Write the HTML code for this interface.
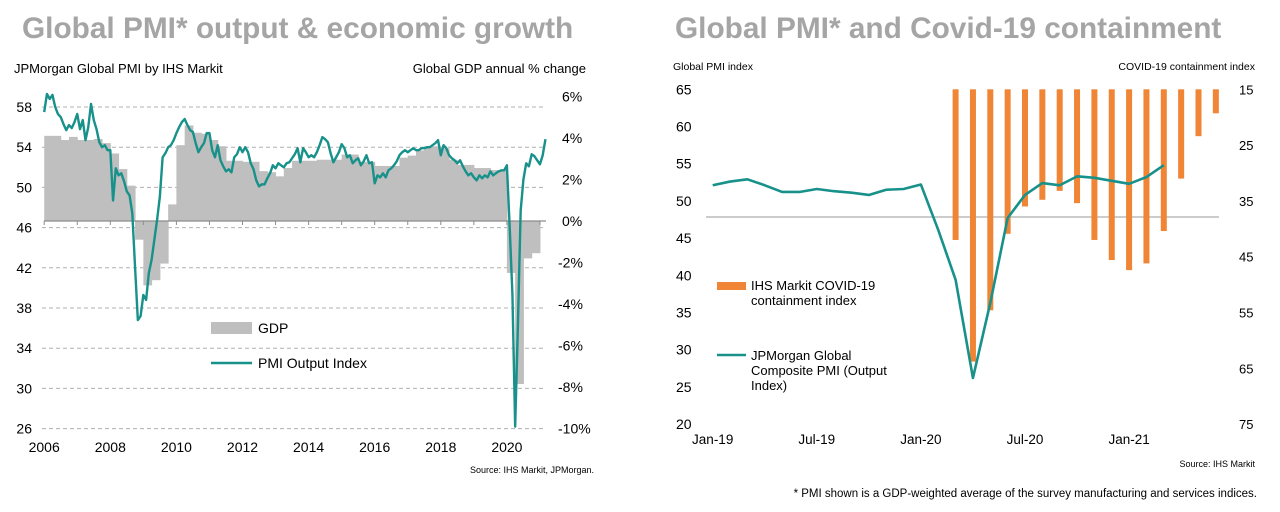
<!DOCTYPE html>
<html><head><meta charset="utf-8"><style>
html,body{margin:0;padding:0;background:#fff;}
svg{display:block;font-family:"Liberation Sans",Arial,sans-serif;}
</style></head><body>
<svg id="c" width="1280" height="512" viewBox="0 0 1280 512" xmlns="http://www.w3.org/2000/svg">
<text x="22" y="38" font-size="29.8" font-weight="bold" fill="#a5a5a5">Global PMI* output &amp; economic growth</text>
<text x="675" y="38" font-size="29.8" font-weight="bold" fill="#a5a5a5">Global PMI* and Covid-19 containment</text>
<text x="14" y="73" font-size="13" fill="#000">JPMorgan Global PMI by IHS Markit</text>
<text x="586" y="73" font-size="13" fill="#000" text-anchor="end">Global GDP annual % change</text>
<text x="673" y="70" font-size="10.5" fill="#000">Global PMI index</text>
<text x="1255" y="70" font-size="10.5" fill="#000" text-anchor="end">COVID-19 containment index</text>
<text x="594" y="473" font-size="9" fill="#000" text-anchor="end">Source: IHS Markit, JPMorgan.</text>
<text x="1255" y="467" font-size="9" fill="#000" text-anchor="end">Source: IHS Markit</text>
<text x="1257" y="497" font-size="11.5" fill="#000" text-anchor="end">* PMI shown is a GDP-weighted average of the survey manufacturing and services indices.</text>
<g id="left"></g><g id="right"></g>
</svg>
<script>
// ---- Left chart data ----
const gdpQuarterly = [4.1,4.1,3.9,4.05, 3.9,3.9,3.95,3.75, 3.25,2.5,1.7,-0.9, -3.1,-2.85,-2.05,0.8, 3.65,4.6,4.25,4.2, 3.9,3.6,2.9,2.9, 2.85,2.85,2.4,2.35, 2.15,2.55,2.9,2.9, 2.9,2.95,2.95,2.95, 3.2,3.2,2.85,2.85, 2.65,2.65,2.65,3.05, 3.15,3.4,3.6,3.6, 3.5,2.95,2.7,2.7, 2.55,2.55,2.45,2.45, -2.5,-7.85,-1.8,-1.55];
const pmiMonthly = [57.5,59.3,58.8,59.2,58.0,57.3,57.0,56.3,55.7,56.2,55.9,56.5,
57.3,55.8,56.7,54.7,56.0,58.3,56.7,55.8,54.5,54.0,54.2,53.7,
53.7,48.7,51.9,51.2,51.4,50.6,49.6,49.2,47.4,42.0,36.8,37.2,
39.3,38.8,41.5,42.8,44.8,46.8,49.1,53.0,53.4,54.0,54.2,54.7,
55.4,56.0,56.5,56.8,56.2,55.7,55.5,54.4,53.5,54.0,54.4,55.4,
55.4,53.7,53.0,54.2,52.7,52.1,51.6,51.8,51.5,53.0,53.3,54.0,
53.5,54.0,53.5,52.4,51.8,50.7,50.1,50.3,50.3,50.9,51.4,52.2,
51.9,52.4,52.2,52.0,52.4,52.5,52.9,53.3,53.9,52.5,53.9,53.5,
53.0,53.2,53.0,53.5,54.2,55.0,54.8,54.5,53.4,52.5,53.0,53.5,
54.3,53.9,53.0,53.2,52.4,52.7,52.9,52.2,52.6,53.2,52.4,52.5,
50.4,51.2,51.0,51.4,51.0,51.7,51.9,52.2,52.6,53.2,53.5,53.7,
53.5,53.7,53.9,53.7,53.7,53.9,53.9,54.0,54.0,54.2,54.4,54.7,
53.2,54.2,53.9,53.2,52.9,52.7,52.4,52.7,52.1,51.6,51.2,51.4,
51.0,50.7,51.2,50.9,51.2,51.0,51.6,51.2,51.4,51.6,51.7,51.7,
52.2,46.1,39.4,26.2,36.3,47.7,50.8,52.4,52.1,53.3,53.1,52.7,
52.3,53.2,54.8];
const leftTicks = [58,54,50,46,42,38,34,30,26];
const rightTicks = [6,4,2,0,-2,-4,-6,-8,-10];
const yearTicks = [2006,2008,2010,2012,2014,2016,2018,2020];

// ---- Right chart data ----
const monthLabels = ['Jan-19','Jul-19','Jan-20','Jul-20','Jan-21'];
const pmiRecent = [52.1,52.6,52.9,52.1,51.2,51.2,51.6,51.3,51.1,50.8,51.5,51.6,52.2,46.1,39.4,26.2,36.3,47.7,50.8,52.4,52.1,53.3,53.1,52.7,52.3,53.2,54.8];
const containment = [42.0,63.8,54.6,40.9,36.0,34.8,33.2,35.4,42.0,45.6,47.4,46.2,40.4,31.0,23.4,19.3]; // Mar-20 .. Jun-21
const containStartMonth = 14;
const pmiTicksR = [65,60,55,50,45,40,35,30,25,20];
const contTicks = [15,25,35,45,55,65,75];

const NS='http://www.w3.org/2000/svg';
function mk(p,tag,attrs,txt){const e=document.createElementNS(NS,tag);for(const k in attrs)e.setAttribute(k,attrs[k]);if(txt!==undefined)e.textContent=txt;p.appendChild(e);return e;}

// Left axes
const L=document.getElementById('left');
const lx=y=>44.2+(y-2006)*33.05;
const ly=v=>107+(58-v)*10.05;
const ry=p=>221-p*20.77;
leftTicks.forEach(t=>{
  const g=mk(L,'line',{x1:42,x2:546,y1:ly(t),y2:ly(t),stroke:'#b0b0b0','stroke-dasharray':'4,3','stroke-width':1});
  
  
  const tx=mk(L,'text',{x:32,y:ly(t)+5,'font-size':14,'text-anchor':'end',fill:'#000'},String(t));
  
  
});
rightTicks.forEach(t=>{
  const tx=mk(L,'text',{x:t<0?558:562,y:ry(t)+5,'font-size':14,fill:'#000'},t+'%');
  
  
});
gdpQuarterly.forEach((v,i)=>{
  const x0=lx(2006+i/4), x1=lx(2006+(i+1)/4);
  const r=mk(L,'rect',{x:x0,y:Math.min(ry(v),ry(0)),width:x1-x0+0.5,height:Math.abs(ry(v)-ry(0)),fill:'#bfbfbf'});
  
  
});
const zl=mk(L,'line',{x1:44,x2:546,y1:ry(0),y2:ry(0),stroke:'#8c8c8c','stroke-width':1.3});


for(let y=2006;y<=2021;y++){const t=mk(L,'line',{x1:lx(y),x2:lx(y),y1:ry(0),y2:ry(0)+4,stroke:'#8c8c8c'});
 
 }
yearTicks.forEach(y=>{const t=mk(L,'text',{x:lx(y),y:452,'font-size':14,'text-anchor':'middle',fill:'#000'},String(y));
 
 });
const pl=mk(L,'polyline',{points:pmiMonthly.map((v,i)=>lx(2006+i/12)+','+ly(v)).join(' '),fill:'none',stroke:'#17918a','stroke-width':2.4,'stroke-linejoin':'round'});


let lg=mk(L,'rect',{x:211,y:322,width:41,height:12,fill:'#bfbfbf'});


lg=mk(L,'text',{x:258,y:333,'font-size':14,fill:'#000'},'GDP');


lg=mk(L,'line',{x1:211,x2:252,y1:363,y2:363,stroke:'#17918a','stroke-width':2.5});


lg=mk(L,'text',{x:258,y:368,'font-size':14,fill:'#000'},'PMI Output Index');



// Right chart
const R=document.getElementById('right');
const mx=m=>712.7+m*17.35;
const py=v=>89.3+(65-v)*7.44;
const cy=v=>89.3+(v-15)*5.58;
pmiTicksR.forEach(t=>{const e=mk(R,'text',{x:676,y:py(t)+5,'font-size':14,fill:'#000'},String(t));
 
 });
contTicks.forEach(t=>{const e=mk(R,'text',{x:1239,y:cy(t)+5,'font-size':13,fill:'#000'},String(t));
 
 });
monthLabels.forEach((s,i)=>{const e=mk(R,'text',{x:mx(i*6),y:444,'font-size':13.5,'text-anchor':'middle',fill:'#000'},s);
 
 });
const bl=mk(R,'line',{x1:706,x2:1219,y1:217,y2:217,stroke:'#9a9a9a','stroke-width':1});


containment.forEach((v,i)=>{const x=mx(containStartMonth+i);
 const r=mk(R,'rect',{x:x-3,y:cy(15),width:6,height:cy(v)-cy(15),fill:'#ef8535'});
 
 });
const pr=mk(R,'polyline',{points:pmiRecent.map((v,i)=>mx(i)+','+py(v)).join(' '),fill:'none',stroke:'#17918a','stroke-width':2.6,'stroke-linejoin':'round'});


let e=mk(R,'rect',{x:717,y:282,width:29,height:8,fill:'#ef8535'});


e=mk(R,'text',{x:751,y:290,'font-size':13,fill:'#000'},'IHS Markit COVID-19');


e=mk(R,'text',{x:751,y:305,'font-size':13,fill:'#000'},'containment index');


e=mk(R,'line',{x1:717,x2:746,y1:355,y2:355,stroke:'#17918a','stroke-width':2.6});


['JPMorgan Global','Composite PMI (Output','Index)'].forEach((s,i)=>{const t=mk(R,'text',{x:751,y:360+i*15,'font-size':13,fill:'#000'},s);
 
 });
</script>
</body></html>
